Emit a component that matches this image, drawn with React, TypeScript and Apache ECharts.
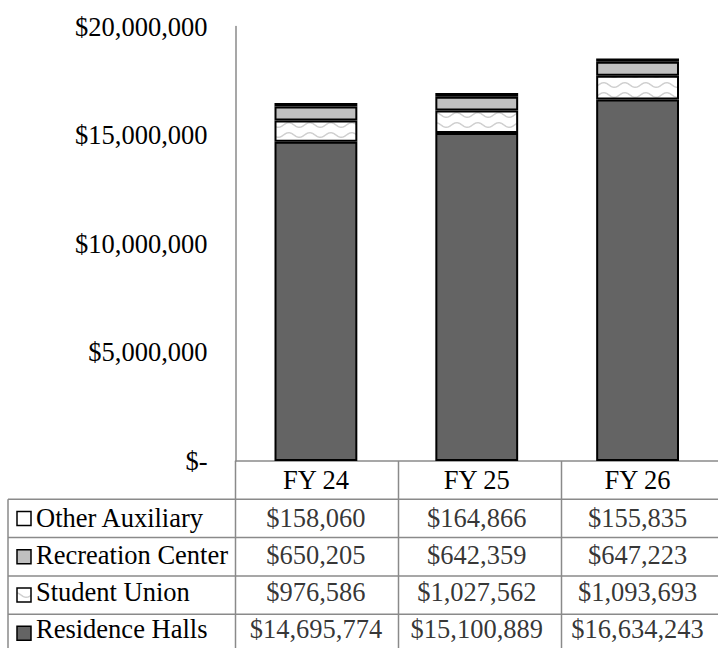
import React, { useEffect, useRef } from "react";
import * as echarts from "echarts";

const categories = ["FY 24", "FY 25", "FY 26"];
const residenceHalls = [14695774, 15100889, 16634243];
const studentUnion = [976586, 1027562, 1093693];
const recreationCenter = [650205, 642359, 647223];
const otherAuxiliary = [158060, 164866, 155835];
const yTicks = [0, 5000000, 10000000, 15000000, 20000000];

const FONT = "'Liberation Serif', 'Times New Roman', Times, 'DejaVu Serif', serif";
const FS = 26.5;
const W = 718;
const H = 648;
const GRID_LEFT = 235.5;
const GRID_TOP = 26.5;
const GRID_BOTTOM_Y = 461;
const COL_W = 163;
const ROW_H = 38.3;
const TABLE_LEFT = 8;
const LINE_COLOR = "#8a8a8a";

function fmtMoney(v: number): string {
  if (v === 0) return "$-";
  return "$" + v.toLocaleString("en-US");
}

function makeWave(): HTMLCanvasElement {
  const c = document.createElement("canvas");
  c.width = 21;
  c.height = 10;
  const ctx = c.getContext("2d")!;
  ctx.fillStyle = "#ffffff";
  ctx.fillRect(0, 0, 21, 10);
  ctx.strokeStyle = "#d0d0d0";
  ctx.lineWidth = 1.5;
  ctx.beginPath();
  for (let x = -1; x <= 22; x += 0.5) {
    const y = 5 + 2.3 * Math.sin((2 * Math.PI * x) / 21);
    if (x === -1) ctx.moveTo(x, y);
    else ctx.lineTo(x, y);
  }
  ctx.stroke();
  return c;
}

export default function App() {
  const ref = useRef<HTMLDivElement>(null);

  useEffect(() => {
    if (!ref.current) return;
    const chart = echarts.init(ref.current, undefined, { renderer: "svg" });
    const wave = makeWave();
    const waveFill: any = { image: wave, repeat: "repeat" };

    const seriesDefs = [
      { name: "Residence Halls", data: residenceHalls, color: "#646464" },
      { name: "Student Union", data: studentUnion, color: waveFill },
      { name: "Recreation Center", data: recreationCenter, color: "#c0c0c0" },
      { name: "Other Auxiliary", data: otherAuxiliary, color: "#ffffff" },
    ];

    const gridWidth = COL_W * categories.length;
    const gridRight = W - GRID_LEFT - gridWidth;
    const tableTop = GRID_BOTTOM_Y + ROW_H;
    const tableBottom = GRID_BOTTOM_Y + ROW_H * 5 + 2;

    const graphics: any[] = [];
    for (let r = 1; r <= 4; r++) {
      const y = GRID_BOTTOM_Y + ROW_H * r;
      graphics.push({
        type: "line",
        shape: { x1: TABLE_LEFT, y1: y, x2: W, y2: y },
        style: { stroke: LINE_COLOR, lineWidth: 1.5 },
      });
    }
    graphics.push({
      type: "line",
      shape: { x1: TABLE_LEFT, y1: tableTop, x2: TABLE_LEFT, y2: tableBottom },
      style: { stroke: LINE_COLOR, lineWidth: 1.5 },
    });
    for (let i = 0; i <= categories.length; i++) {
      const x = GRID_LEFT + COL_W * i;
      graphics.push({
        type: "line",
        shape: { x1: x, y1: GRID_BOTTOM_Y, x2: x, y2: tableBottom },
        style: { stroke: LINE_COLOR, lineWidth: 1.5 },
      });
    }
    [...seriesDefs].reverse().forEach((s, r) => {
      const cy = tableTop + ROW_H * r + ROW_H / 2;
      graphics.push({
        type: "rect",
        shape: { x: 17, y: cy - 7, width: 14, height: 14 },
        style: { fill: s.color, stroke: "#000", lineWidth: 1.5 },
      });
    });

    const tableData: any[] = [];
    seriesDefs.forEach((s, r) => {
      s.data.forEach((v, i) => tableData.push([i, r, v]));
    });

    chart.setOption({
      animation: false,
      backgroundColor: "#ffffff",
      textStyle: { fontFamily: FONT },
      grid: [
        {
          left: GRID_LEFT,
          top: GRID_TOP,
          width: gridWidth,
          right: gridRight,
          height: GRID_BOTTOM_Y - GRID_TOP,
          containLabel: false,
        },
        {
          left: GRID_LEFT,
          top: tableTop,
          width: gridWidth,
          height: ROW_H * 4,
          containLabel: false,
        },
      ],
      xAxis: [
        {
          type: "category",
          data: categories,
          axisLine: { show: true, lineStyle: { color: LINE_COLOR, width: 1.5 } },
          axisTick: { show: false },
          axisLabel: {
            fontFamily: FONT,
            fontSize: FS,
            color: "#000",
            margin: 19,
            verticalAlign: "middle",
          },
        },
        {
          type: "category",
          gridIndex: 1,
          data: categories,
          show: false,
        },
      ],
      yAxis: [
        {
          type: "value",
          min: 0,
          max: 20000000,
          interval: 5000000,
          axisLine: { show: true, lineStyle: { color: LINE_COLOR, width: 1.5 } },
          axisTick: { show: false },
          splitLine: { show: false },
          axisLabel: {
            fontFamily: FONT,
            fontSize: FS,
            color: "#000",
            margin: 28,
            customValues: yTicks,
            formatter: (v: number) => fmtMoney(v),
          },
        },
        {
          type: "category",
          gridIndex: 1,
          data: seriesDefs.map((s) => s.name),
          axisLine: { show: false },
          axisTick: { show: false },
          splitLine: { show: false },
          axisLabel: {
            align: "left",
            margin: GRID_LEFT - 36,
            fontFamily: FONT,
            fontSize: FS,
            color: "#000",
          },
        },
      ],
      series: [
        ...seriesDefs.map((s) => ({
          name: s.name,
          type: "bar",
          stack: "total",
          barWidth: "51.5%",
          data: s.data,
          itemStyle: { color: s.color, borderColor: "#000", borderWidth: 2 },
        })),
        {
          name: "table",
          type: "scatter",
          xAxisIndex: 1,
          yAxisIndex: 1,
          silent: true,
          symbol: "rect",
          symbolSize: 1,
          itemStyle: { color: "rgba(0,0,0,0)" },
          data: tableData,
          label: {
            show: true,
            position: "inside",
            fontFamily: FONT,
            fontSize: FS,
            color: "#000",
            formatter: (p: any) => fmtMoney(p.value[2]),
          },
        },
      ],
      graphic: graphics,
    });

    return () => chart.dispose();
  }, []);

  return (
    <div
      ref={ref}
      style={{ position: "fixed", left: 0, top: 0, width: W, height: H, background: "#fff" }}
    />
  );
}
